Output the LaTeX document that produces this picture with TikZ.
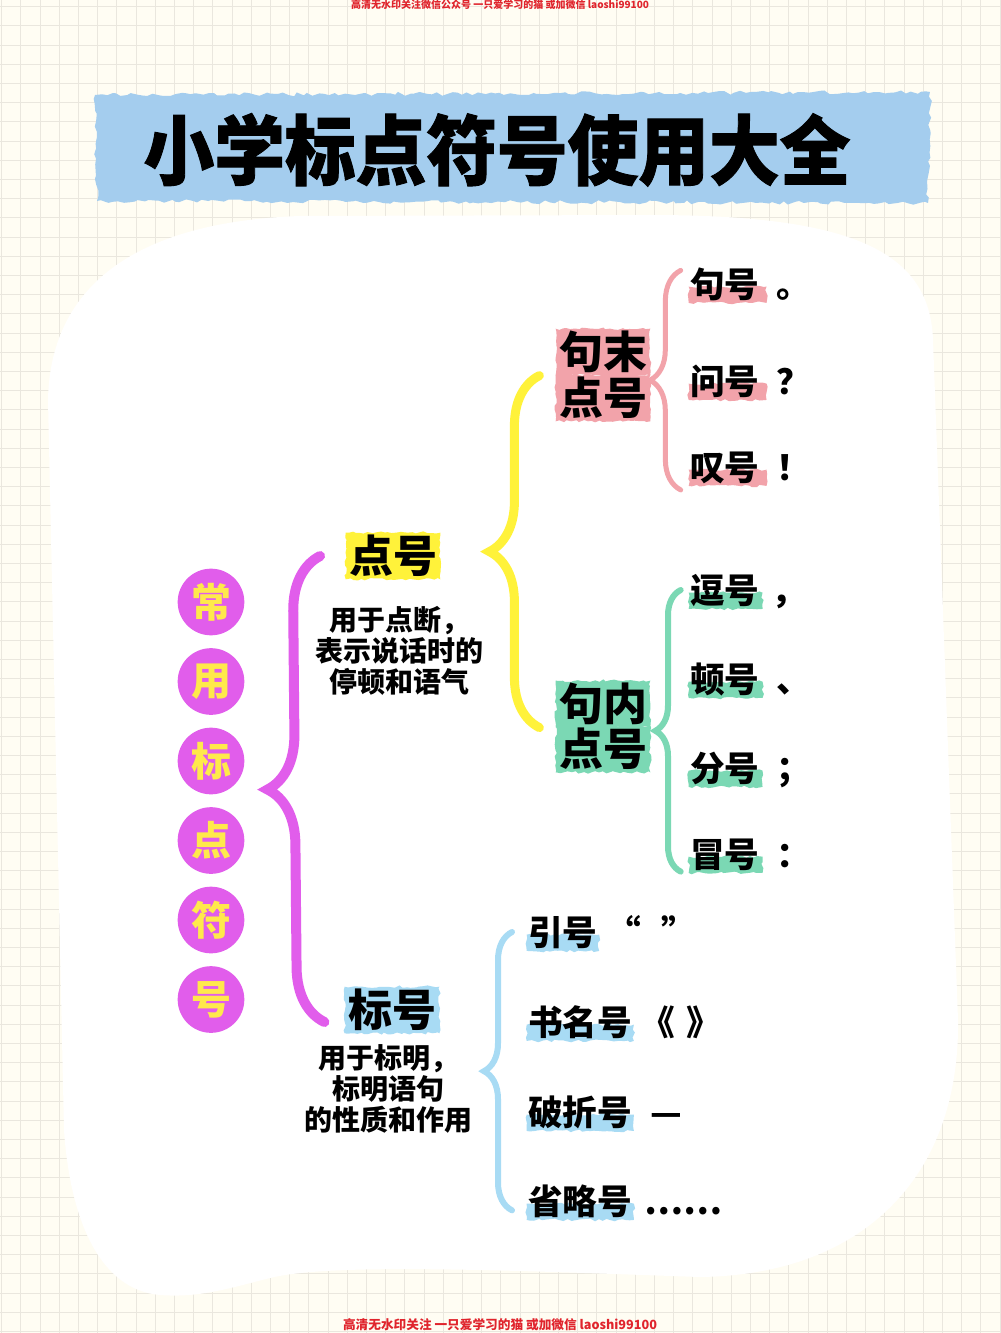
\documentclass[tikz,border=0pt]{standalone}
\usepackage{graphicx}
\usepackage{fontspec}
\setmainfont{Noto Sans CJK SC}
\newfontfamily\punctfont{Noto Sans CJK SC}[RawFeature=+palt]
\newfontfamily\titlefont{Noto Sans CJK SC}[BoldFeatures={FakeBold=1.2}]
\usetikzlibrary{positioning,decorations.pathreplacing,decorations.pathmorphing}

\definecolor{paperc}{HTML}{FFFDF3}
\definecolor{gridc}{HTML}{EAE7DE}
\definecolor{tapeblue}{HTML}{A4CDEE}
\definecolor{mag}{HTML}{E15DEB}
\definecolor{sun}{HTML}{FFE94B}
\definecolor{lemon}{HTML}{FFF23A}
\definecolor{rose}{HTML}{F2A3AA}
\definecolor{mint}{HTML}{7BD8B4}
\definecolor{sky}{HTML}{A8DBF4}
\definecolor{wmred}{HTML}{E0242C}

\pgfdeclarelayer{paper}
\pgfdeclarelayer{marker}
\pgfsetlayers{paper,marker,main}

\tikzset{
  gridline/.style={draw=gridc, line width=0.8pt},
  disc/.style={circle, fill=mag, text=sun, minimum size=50pt, inner sep=0pt,
    font=\fontsize{30}{30}\selectfont\bfseries},
  heading/.style={inner xsep=2.5pt, inner ysep=1pt, text height=29pt, text depth=4pt,
    font=\fontsize{33}{33}\selectfont\bfseries},
  note/.style={align=center, font=\fontsize{21}{23}\selectfont\bfseries},
  entry/.style={anchor=west, inner sep=0pt, text height=22.9pt, text depth=3.1pt,
    font=\fontsize{26}{26}\selectfont\bfseries},
  punct/.style={anchor=base, inner sep=0pt, font=\punctfont\fontsize{26}{26}\selectfont\bfseries},
  curly/.style={decorate, decoration={brace, amplitude=#1}, line cap=round},
  rough/.style={decorate, decoration={random steps, segment length=3pt, amplitude=1pt}},
  wm/.style={text=wmred, inner sep=0pt},
}

\begin{document}
\begin{tikzpicture}[x=0.75pt, y=-0.75pt]
  \useasboundingbox (0,0) rectangle (1000,1333);

  % paper, grid and the white sheet
  \begin{pgfonlayer}{paper}
    \fill[paperc] (0,0) rectangle (1000,1333);
    \foreach \i in {0,...,52}
      \draw[gridline] (1.7+19.2*\i,0) -- (1.7+19.2*\i,1333);
    \foreach \j in {0,...,69}
      \draw[gridline] (0,6.7+19.2*\j) -- (1000,6.7+19.2*\j);
    \fill[white] (300,216) .. controls (130,222) and (50,290) .. (48,400)
      -- (64,1130) .. controls (70,1220) and (100,1290) .. (160,1295)
      .. controls (200,1298) and (230,1288) .. (270,1278)
      .. controls (330,1263) and (500,1270) .. (700,1277)
      .. controls (860,1275) and (960,1180) .. (958,1020)
      -- (933,340) .. controls (930,250) and (850,215) .. (650,215) -- cycle;
    \fill[tapeblue, decorate, decoration={random steps, segment length=4pt, amplitude=1.5pt}]
      (95,95) -- (930,92) -- (928,203) -- (97,201) -- cycle;
  \end{pgfonlayer}

  \node[wm, font=\fontsize{7.5}{8}\selectfont\bfseries] (wm-top) at (500,5)
    {高清无水印关注微信公众号\ 一只爱学习的猫\ 或加微信\ laoshi99100};
  \node[wm, font=\fontsize{9.5}{10}\selectfont\bfseries] (wm-bot) at (500,1325)
    {高清无水印关注\ 一只爱学习的猫\ 或加微信\ laoshi99100};

  \node[inner sep=0pt, text height=50.2pt, text depth=6.8pt,
    font=\titlefont\fontsize{57}{57}\selectfont\bfseries]
    (title) at (497,150) {\scalebox{0.93}[1]{小学标点符号使用大全}};

  % left column
  \foreach \c [count=\i] in {常,用,标,点,符,号}
    \node[disc] (c\i) at (211,522.5+79.5*\i) {\c};

  % second level
  \node[heading, fill=lemon, rough] (dianhao) at (393,556) {点号};
  \node[note] (dianhao-note) at (399,651) {用于点断，\\表示说话时的\\停顿和语气};
  \node[heading, fill=sky, rough] (biaohao) at (392,1010) {标号};
  \node[note] (biaohao-note) at (388,1089) {用于标明，\\标明语句\\的性质和作用};

  % third level
  \node[heading, fill=rose, rough] (jumo-a) at (603,352) {句末};
  \node[heading, fill=rose, rough] (jumo-b) at (603,398) {点号};
  \node[heading, fill=mint, rough] (junei-a) at (603,704) {句内};
  \node[heading, fill=mint, rough] (junei-b) at (603,749) {点号};

  % leaves
  \node[entry] (juh) at (690,284) {句号};
  \node[entry] (wenh) at (690,381) {问号};
  \node[entry] (tanh) at (690,467) {叹号};
  \node[entry] (douh) at (690,590) {逗号};
  \node[entry] (dunh) at (690,679) {顿号};
  \node[entry] (fenh) at (690,768) {分号};
  \node[entry] (maoh) at (690,854) {冒号};
  \node[entry] (yinh) at (528,932) {引号};
  \node[entry] (shuh) at (528,1022) {书名号};
  \node[entry] (poh) at (528,1112) {破折号};
  \node[entry] (shengh) at (528,1201) {省略号};

  \node[punct] (juh-p) at ([xshift=19pt]juh.base east) {。};
  \node[punct] (wenh-p) at ([xshift=19pt]wenh.base east) {？};
  \node[punct] (tanh-p) at ([xshift=19pt]tanh.base east) {！};
  \node[punct] (douh-p) at ([xshift=19pt]douh.base east) {，};
  \node[punct] (dunh-p) at ([xshift=19pt]dunh.base east) {、};
  \node[punct] (fenh-p) at ([xshift=19pt]fenh.base east) {；};
  \node[punct] (maoh-p) at ([xshift=19pt]maoh.base east) {：};
  \node[punct] (yinh-p) at ([xshift=40pt]yinh.base east) {“\hspace{0.6em}”};
  \node[punct] (shuh-p) at ([xshift=36pt]shuh.base east) {《\hspace{0.35em}》};
  \node[punct] (poh-p) at ([xshift=25.5pt]poh.base east) {—};
  \node[punct] (shengh-p) at ([xshift=38pt]shengh.base east) {……};

  % marker bands under the leaves
  \begin{pgfonlayer}{marker}
    \foreach \n in {juh,wenh,tanh}
      \fill[rose, rough] ([xshift=-1pt,yshift=-2pt]\n.west) rectangle ([xshift=5pt,yshift=-1pt]\n.south east);
    \foreach \n in {douh,dunh,fenh,maoh}
      \fill[mint, rough] ([xshift=-1pt,yshift=-2pt]\n.west) rectangle ([xshift=2pt,yshift=-1pt]\n.south east);
    \foreach \n in {yinh,shuh,poh,shengh}
      \fill[sky, rough] ([xshift=-1pt,yshift=-2pt]\n.west) rectangle ([xshift=1pt,yshift=-1pt]\n.south east);
  \end{pgfonlayer}

  % braces
  \coordinate (mg-top) at ([xshift=-19pt]dianhao.west);
  \coordinate (mg-bot) at ([xshift=-15pt,yshift=-9pt]biaohao.west);
  \coordinate (yl-top) at ([xshift=-12pt]jumo-a.south west);
  \coordinate (yl-bot) at ([xshift=-12pt]junei-a.south west);
  \coordinate (pk-top) at ([xshift=-7pt,yshift=-3pt]juh.north west);
  \coordinate (pk-bot) at ([xshift=-7pt,yshift=-4pt]tanh.south west);
  \coordinate (gn-top) at ([xshift=-7pt]douh.west);
  \coordinate (gn-bot) at ([xshift=-7pt]maoh.south west);
  \coordinate (bl-top) at ([xshift=-12pt]yinh.west);
  \coordinate (bl-bot) at ([xshift=-12pt,yshift=-7pt]shengh.west);

  \draw[curly=41pt, mag, line width=7.5pt] (mg-bot) -- (mg-top);
  \draw[curly=37.5pt, lemon, line width=6.75pt] (yl-bot) -- (yl-top);
  \draw[curly=23pt, rose, line width=3.75pt] (pk-bot) -- (pk-top);
  \draw[curly=19pt, mint, line width=4.5pt] (gn-bot) -- (gn-top);
  \draw[curly=21pt, sky, line width=4.5pt] (bl-bot) -- (bl-top);
\end{tikzpicture}
\end{document}
